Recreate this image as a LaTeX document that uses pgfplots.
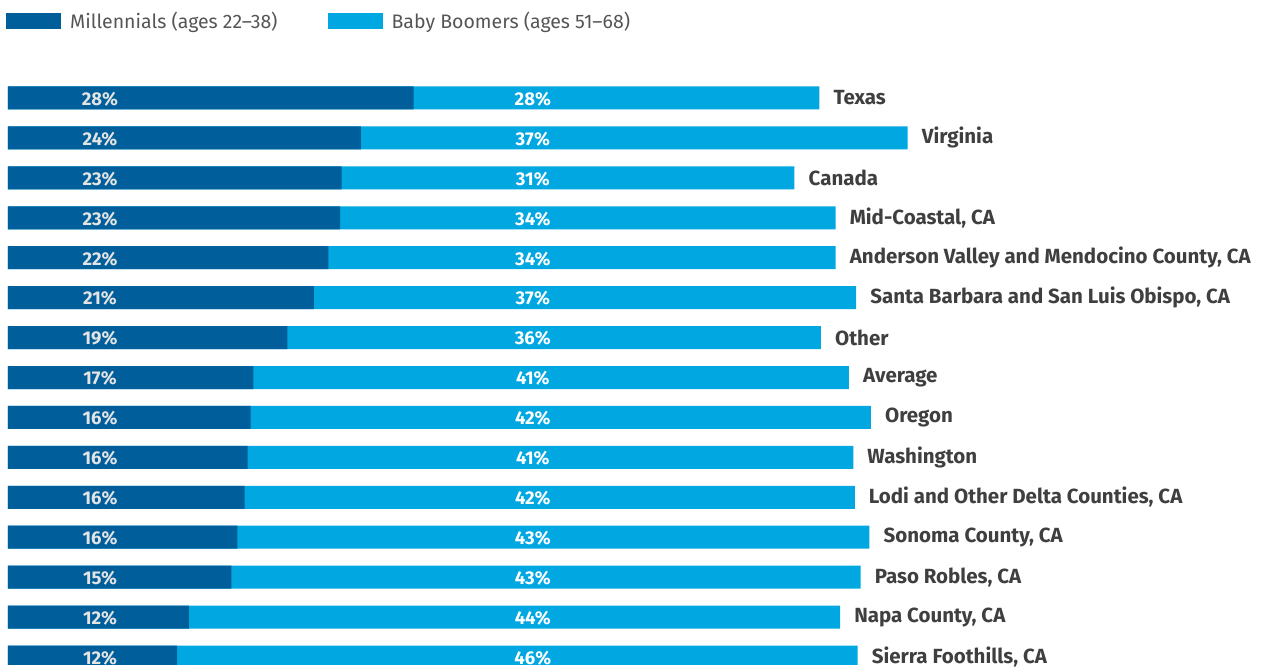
\documentclass[border=0pt]{standalone}
\usepackage{pgfplots}
\pgfplotsset{compat=1.18}
\usepackage{pgfplotstable}
\usepackage{fontspec}
\setmainfont{Fira Sans}
\definecolor{mil}{HTML}{005E9A}
\definecolor{boom}{HTML}{00A7E1}
\definecolor{txt}{HTML}{3F3F3F}
\definecolor{legtxt}{HTML}{555555}
\definecolor{lgrey}{HTML}{E4E4E4}

\pgfplotstableread[col sep=semicolon]{
idx;d;l;dl;ll;name
0;27.6;27.6;28\%;28\%;Texas
1;24.0;37.2;24\%;37\%;Virginia
2;22.7;30.8;23\%;31\%;Canada
3;22.6;33.7;23\%;34\%;Mid-Coastal, CA
4;21.8;34.5;22\%;34\%;Anderson Valley and Mendocino County, CA
5;20.8;36.9;21\%;37\%;Santa Barbara and San Luis Obispo, CA
6;19.0;36.3;19\%;36\%;Other
7;16.7;40.5;17\%;41\%;Average
8;16.5;42.2;16\%;42\%;Oregon
9;16.3;41.2;16\%;41\%;Washington
10;16.1;41.5;16\%;42\%;Lodi and Other Delta Counties, CA
11;15.6;43.0;16\%;43\%;Sonoma County, CA
12;15.2;42.8;15\%;43\%;Paso Robles, CA
13;12.3;44.3;12\%;44\%;Napa County, CA
14;11.5;46.3;12\%;46\%;Sierra Foothills, CA
}\data

\begin{document}
\begin{tikzpicture}
\begin{axis}[
  width=1269pt, height=664pt, scale only axis,
  xmin=-0.544, xmax=85.78, ymin=-2.454, ymax=14.175, y dir=reverse,
  axis line style={draw=none}, xtick=\empty, ytick=\empty,
  legend image code/.code={\fill[#1, draw=none] (0pt,-8pt) rectangle (55pt,8pt);},
  legend style={at={(rel axis cs:0.0047,0.9684)}, anchor=west, draw=none, fill=none,
    inner sep=0pt, font=\fontsize{19.5}{21}\selectfont, text=legtxt,
    /tikz/every odd column/.append style={column sep=9pt},
    /tikz/every even column/.append style={column sep=50pt},
    nodes={inner sep=0pt}, cells={anchor=west}},
  legend columns=2,
]
\addlegendimage{fill=mil, draw=none}
\addlegendentry{Millennials (ages 22–38)}
\addlegendimage{fill=boom, draw=none}
\addlegendentry{Baby Boomers (ages 51–68)}

\addplot[forget plot, xbar, bar width=23pt, bar shift=0pt, fill=boom, draw=none,
  nodes near coords, point meta=explicit symbolic,
  every node near coord/.append style={anchor=west, inner sep=0pt, xshift=14pt,
    text=txt, font=\bfseries\fontsize{20.5}{20.5}\selectfont}]
  table[x expr=\thisrow{d}+\thisrow{l}, y=idx, meta=name]{\data};
\addplot[forget plot, xbar, bar width=23pt, bar shift=0pt, fill=mil, draw=none]
  table[x=d, y=idx]{\data};

\addplot[forget plot, only marks, mark=none, point meta=explicit symbolic,
  nodes near coords,
  every node near coord/.append style={anchor=center, inner sep=0pt, text=lgrey,
    yshift=-1pt, font=\bfseries\fontsize{18.5}{18.5}\selectfont}]
  table[x expr=6.26, y=idx, meta=dl]{\data};
\addplot[forget plot, only marks, mark=none, point meta=explicit symbolic,
  nodes near coords,
  every node near coord/.append style={anchor=center, inner sep=0pt, text=white,
    yshift=-1pt, font=\bfseries\fontsize{18.5}{18.5}\selectfont}]
  table[x expr=35.7, y=idx, meta=ll]{\data};
\end{axis}
\end{tikzpicture}
\end{document}
